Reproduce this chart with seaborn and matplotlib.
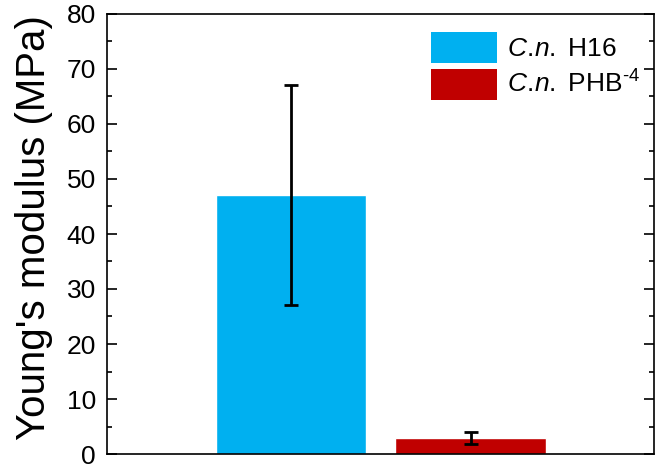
import matplotlib
matplotlib.use("Agg")
import matplotlib.pyplot as plt
import seaborn as sns
import pandas as pd
from matplotlib.patches import Patch
from matplotlib.ticker import MultipleLocator

groups = ["C.n. H16", "C.n. PHB-4"]
values = [47.0, 2.9]
errors = [20.0, 1.1]
colors = ["#00B0F0", "#C00000"]
legend_labels = [r"$\mathit{C.\!n.}$ H16", "$\\mathit{C.\\!n.}$ PHB$^{\u2010 4}$"]

sns.set_style("ticks")
plt.rcParams["font.family"] = ["Liberation Sans", "DejaVu Sans"]
plt.rcParams["mathtext.fontset"] = "custom"
plt.rcParams["mathtext.rm"] = "Liberation Sans"
plt.rcParams["mathtext.it"] = "Liberation Sans:italic"
plt.rcParams["text.color"] = "black"
plt.rcParams["axes.labelcolor"] = "black"
plt.rcParams["ytick.color"] = "black"
plt.rcParams["xtick.color"] = "black"

df = pd.DataFrame({"group": groups, "value": values})

fig = plt.figure(figsize=(6.57, 4.65), dpi=100)
ax = fig.add_axes([107/657, 11/465, 547/657, 440/465])
sns.barplot(data=df, x="group", y="value", hue="group", palette=colors,
            dodge=False, width=0.836, errorbar=None, legend=False, ax=ax,
            saturation=1)
ax.errorbar(x=[0, 1], y=values, yerr=errors, fmt="none", ecolor="black",
            elinewidth=2, capsize=5, capthick=2)

ax.set_xlim(-1.025, 2.022)
ax.set_ylim(0, 80)
ax.yaxis.set_major_locator(MultipleLocator(10))
ax.yaxis.set_minor_locator(MultipleLocator(5))
ax.set_xticks([])
ax.set_xlabel("")
ax.set_ylabel("Young's modulus (MPa)", fontsize=29)
ax.yaxis.set_label_coords(-0.133, 0.515)
ax.yaxis.label.set_va("center")
ax.tick_params(axis="y", which="major", direction="in", length=7, width=1.2,
               labelsize=19, pad=8, left=True, right=True)
ax.tick_params(axis="y", which="minor", direction="in", length=3.5, width=1.2,
               left=True, right=True)
for s in ax.spines.values():
    s.set_visible(True)
    s.set_linewidth(1.2)
    s.set_color("black")

handles = [Patch(facecolor=c, edgecolor="none") for c in colors]
ax.legend(handles, legend_labels, loc="upper right", bbox_to_anchor=(1.004, 0.995),
          frameon=False, fontsize=19, handlelength=2.5, handleheight=1.45,
          handletextpad=0.4, labelspacing=0.2, borderaxespad=0.2)

fig.savefig("out.png", dpi=100)
